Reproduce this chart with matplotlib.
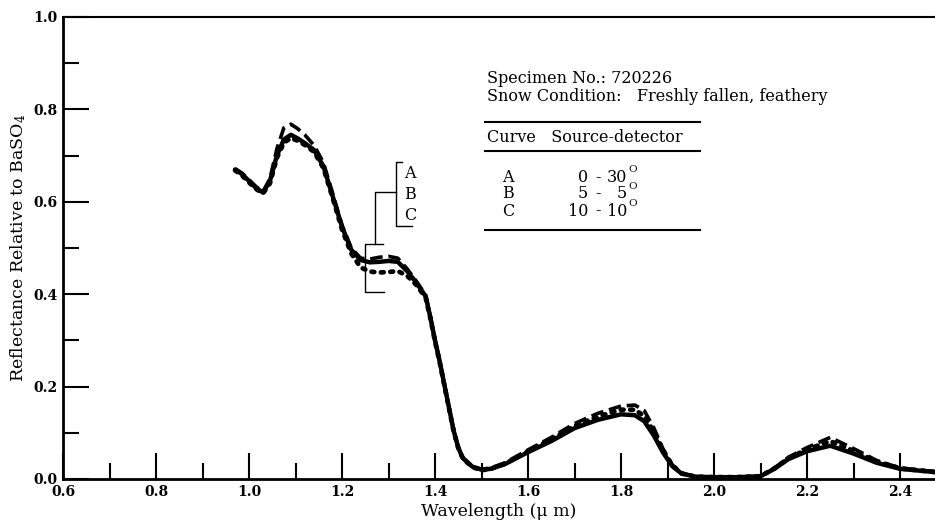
import matplotlib
matplotlib.use("Agg")
import matplotlib.pyplot as plt
from matplotlib.ticker import MultipleLocator

plt.rcParams['font.family'] = ['DejaVu Serif']
plt.rcParams['mathtext.fontset'] = 'dejavuserif'

# ---- data ----
wavelength = [0.97, 0.985, 1.00, 1.015, 1.03, 1.045, 1.06, 1.075, 1.09, 1.105,
              1.12, 1.14, 1.16, 1.18, 1.20, 1.22, 1.24, 1.26, 1.28, 1.30,
              1.32, 1.34, 1.36, 1.38, 1.39, 1.40, 1.41, 1.42, 1.43, 1.44,
              1.45, 1.46, 1.48, 1.50, 1.52, 1.55, 1.60, 1.65, 1.70, 1.75,
              1.80, 1.83, 1.85, 1.87, 1.89, 1.91, 1.93, 1.96, 2.00, 2.05,
              2.10, 2.13, 2.16, 2.20, 2.25, 2.30, 2.35, 2.40, 2.475]

curve_a = [0.672, 0.662, 0.648, 0.633, 0.622, 0.650, 0.715, 0.760, 0.768, 0.758,
           0.745, 0.722, 0.685, 0.618, 0.550, 0.500, 0.478, 0.476, 0.480, 0.482,
           0.478, 0.455, 0.428, 0.398, 0.352, 0.302, 0.256, 0.206, 0.156, 0.106,
           0.069, 0.046, 0.028, 0.021, 0.024, 0.035, 0.063, 0.090, 0.120, 0.142,
           0.158, 0.160, 0.148, 0.112, 0.066, 0.031, 0.013, 0.005, 0.004, 0.004,
           0.006, 0.024, 0.047, 0.068, 0.090, 0.066, 0.040, 0.024, 0.016]

curve_b = [0.670, 0.660, 0.645, 0.630, 0.620, 0.645, 0.700, 0.735, 0.745, 0.737,
           0.727, 0.712, 0.677, 0.612, 0.546, 0.496, 0.474, 0.469, 0.470, 0.472,
           0.470, 0.450, 0.425, 0.395, 0.350, 0.300, 0.255, 0.205, 0.155, 0.105,
           0.068, 0.045, 0.027, 0.020, 0.022, 0.032, 0.058, 0.082, 0.110, 0.128,
           0.140, 0.138, 0.125, 0.095, 0.058, 0.028, 0.012, 0.005, 0.004, 0.004,
           0.006, 0.022, 0.043, 0.060, 0.072, 0.055, 0.035, 0.022, 0.015]

curve_c = [0.668, 0.657, 0.642, 0.628, 0.618, 0.640, 0.695, 0.728, 0.738, 0.732,
           0.723, 0.708, 0.673, 0.608, 0.540, 0.488, 0.458, 0.449, 0.447, 0.448,
           0.450, 0.440, 0.420, 0.392, 0.348, 0.298, 0.253, 0.203, 0.153, 0.104,
           0.067, 0.044, 0.026, 0.019, 0.022, 0.033, 0.060, 0.086, 0.115, 0.135,
           0.150, 0.150, 0.136, 0.104, 0.063, 0.030, 0.012, 0.005, 0.004, 0.004,
           0.006, 0.023, 0.045, 0.064, 0.082, 0.061, 0.038, 0.023, 0.015]

curve_letters = ['A', 'B', 'C']
source_angles = ['0', '5', '10']
detector_angles = ['30', '5', '10']

x_ticks_major = [0.6, 0.8, 1.0, 1.2, 1.4, 1.6, 1.8, 2.0, 2.2, 2.4]
y_ticks_major = [0.0, 0.2, 0.4, 0.6, 0.8, 1.0]

# ---- figure ----
fig = plt.figure(figsize=(9.35, 5.29), dpi=100)
ax = fig.add_axes([63 / 935, 1 - 479 / 529, 1 - 63 / 935, (479 - 17) / 529])

ax.plot(wavelength, curve_b, color='black', lw=3.2, solid_capstyle='round')
ax.plot(wavelength, curve_a, color='black', lw=2.6, linestyle=(0, (3.5, 1.6)))
ax.plot(wavelength, curve_c, color='black', lw=3.4, linestyle=(0, (0.6, 1.4)),
        dash_capstyle='round')

ax.set_xlim(0.6, 0.6 + (935 - 63) / 465)
ax.set_ylim(0.0, 1.0)

ax.spines['right'].set_visible(False)
for s in ['left', 'bottom']:
    ax.spines[s].set_linewidth(2.0)
ax.spines['top'].set_linewidth(1.5)

ax.set_xticks(x_ticks_major)
ax.set_xticklabels([f"{v:.1f}" for v in x_ticks_major])
ax.set_yticks(y_ticks_major)
ax.set_yticklabels([f"{v:.1f}" for v in y_ticks_major])
ax.xaxis.set_minor_locator(MultipleLocator(0.1))
ax.yaxis.set_minor_locator(MultipleLocator(0.1))
ax.tick_params(which='major', direction='in', length=19, width=1.5,
               labelsize=10, pad=4, top=False, right=False)
ax.tick_params(which='minor', direction='in', length=11.5, width=1.5,
               top=False, right=False)
for lab in ax.get_xticklabels() + ax.get_yticklabels():
    lab.set_fontweight('bold')

ax.set_xlabel("Wavelength (\u03bc m)", fontsize=12.5, labelpad=3)
ax.set_ylabel(r"Reflectance Relative to BaSO$_4$", fontsize=12.5, labelpad=4)

# ---- info block ----
fs = 11.5
ax.text(1.512, 0.866, "Specimen No.: 720226", fontsize=fs, va='center', ha='left')
ax.text(1.512, 0.827, "Snow Condition:   Freshly fallen, feathery", fontsize=fs,
        va='center', ha='left')
ax.plot([1.508, 1.970], [0.773, 0.773], color='black', lw=1.5)
ax.text(1.512, 0.740, "Curve   Source-detector", fontsize=fs, va='center', ha='left')
ax.plot([1.508, 1.970], [0.710, 0.710], color='black', lw=1.5)
row_y = [0.652, 0.617, 0.580]
for letter, s_ang, d_ang, yy in zip(curve_letters, source_angles, detector_angles, row_y):
    ax.text(1.544, yy, letter, fontsize=fs, va='center', ha='left')
    ax.text(1.729, yy, s_ang, fontsize=fs, va='center', ha='right')
    ax.text(1.7505, yy, "-", fontsize=fs, va='center', ha='center')
    ax.text(1.813, yy, d_ang, fontsize=fs, va='center', ha='right')
    ax.text(1.815, yy + 0.017, "O", fontsize=7.5, va='center', ha='left')
ax.plot([1.508, 1.970], [0.539, 0.539], color='black', lw=1.5)

# ---- bracket labelling curves ----
bk = dict(color='black', lw=1.0)
ax.plot([1.329, 1.316, 1.316, 1.350], [0.686, 0.686, 0.548, 0.548], **bk)
ax.plot([1.316, 1.271, 1.271], [0.621, 0.621, 0.509], **bk)
ax.plot([1.288, 1.249, 1.249, 1.290], [0.509, 0.509, 0.405, 0.405], **bk)
for letter, yy in zip(curve_letters, [0.662, 0.615, 0.571]):
    ax.text(1.333, yy, letter, fontsize=fs, va='center', ha='left')

fig.savefig("out.png", dpi=100)
